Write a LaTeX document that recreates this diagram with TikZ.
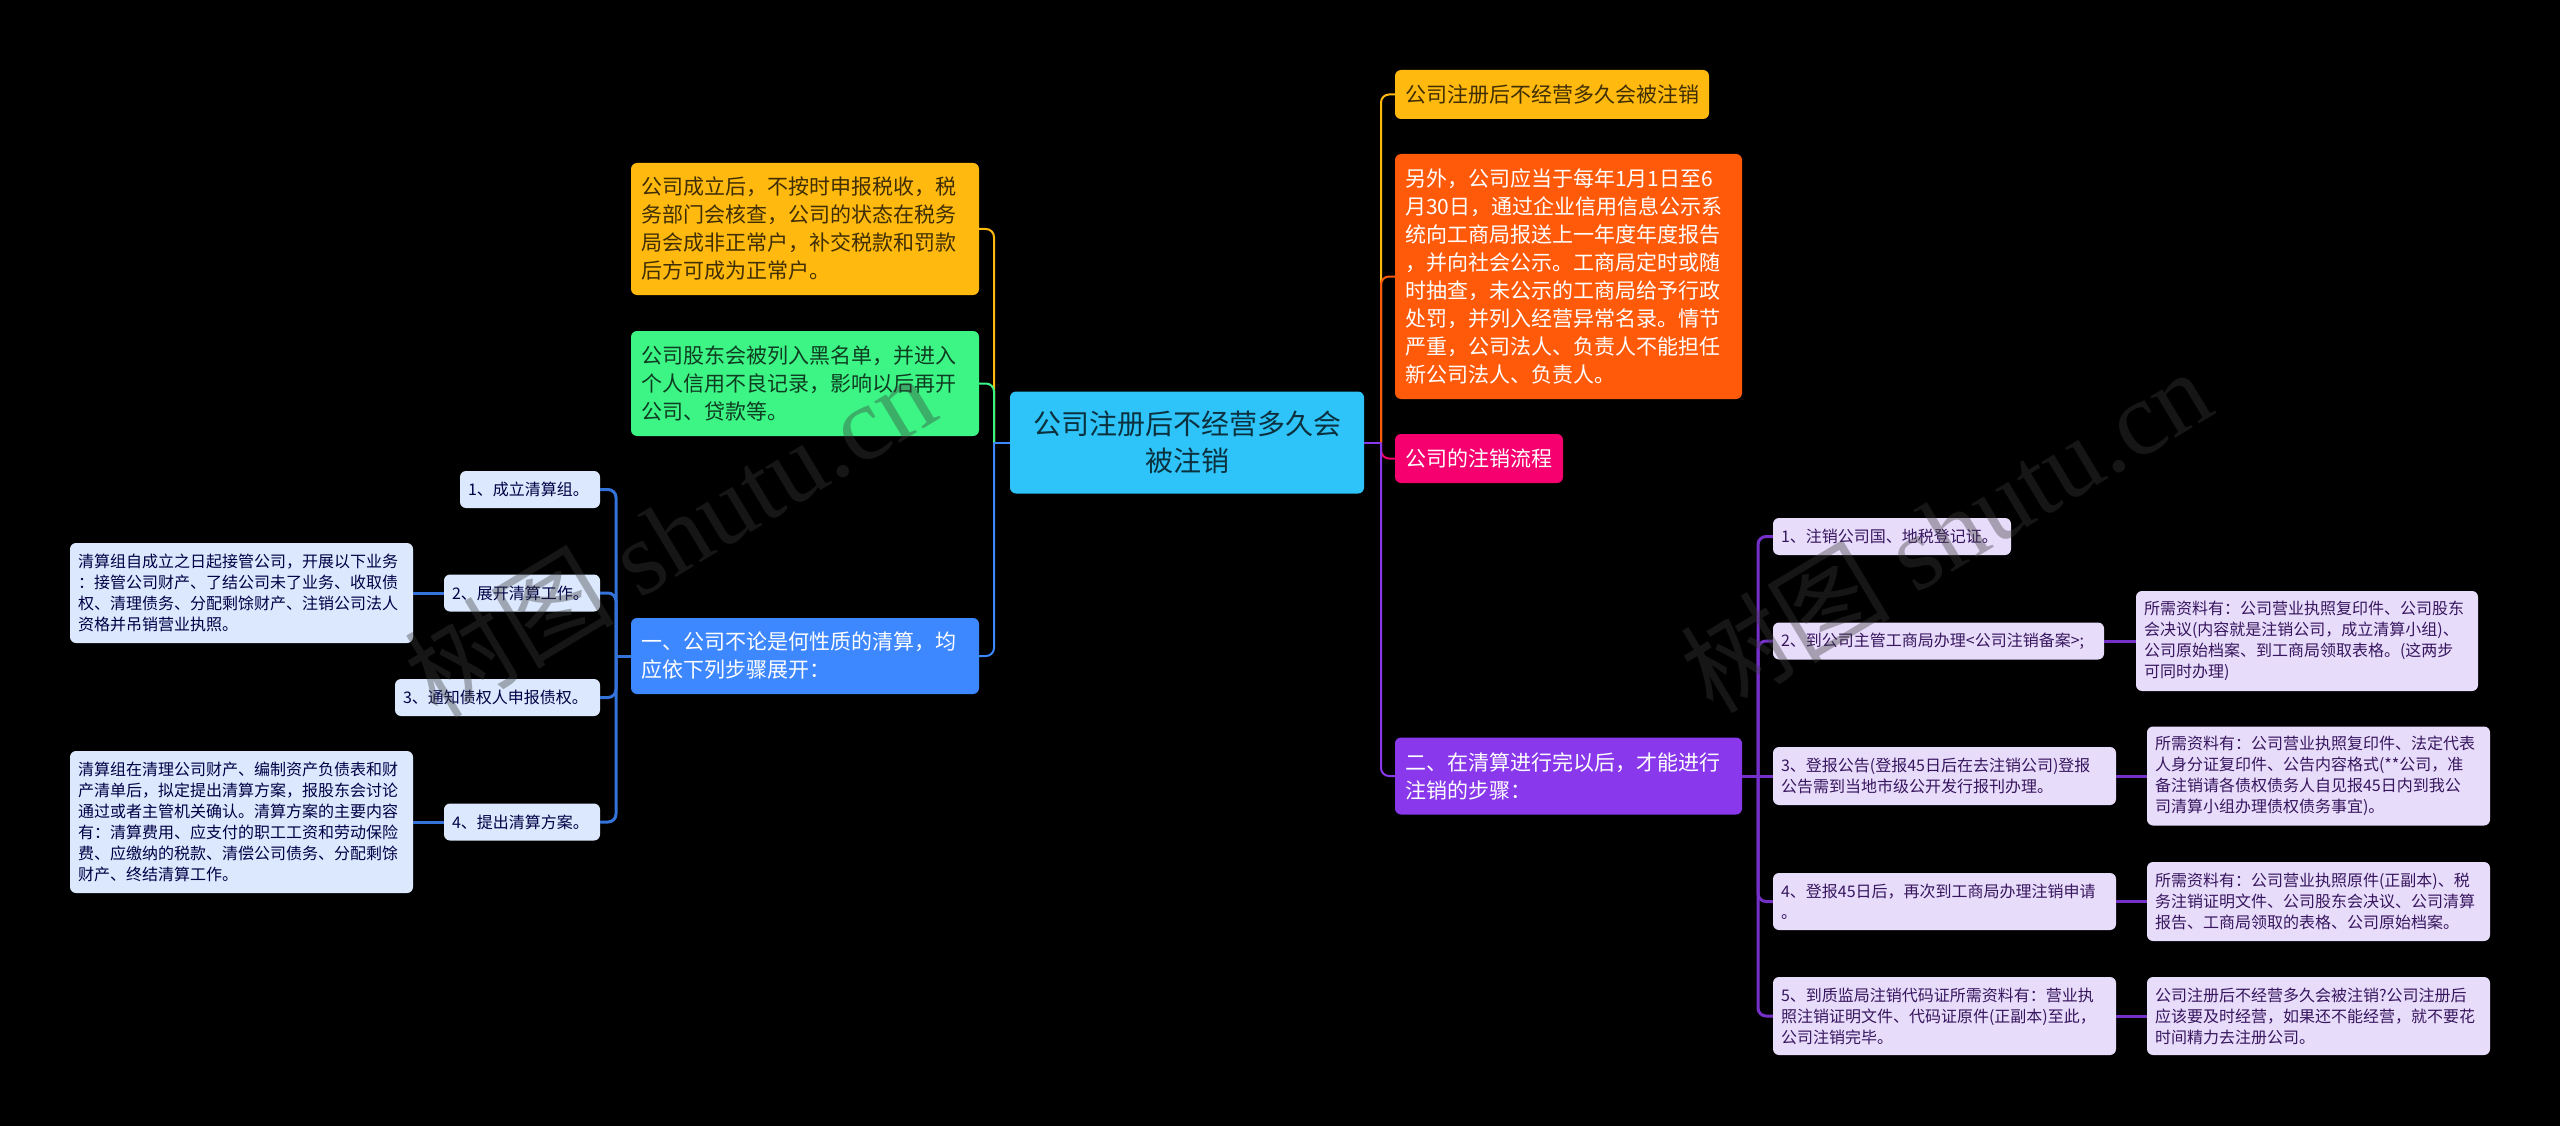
\documentclass[tikz,border=0pt]{standalone}
\usepackage{fontspec}
\setmainfont{Noto Sans CJK SC}
\newfontfamily\markfont{Liberation Serif}
\definecolor{myyellow}{HTML}{FFB90F}
\definecolor{mygreen}{HTML}{3CF585}
\definecolor{myblue}{HTML}{3D87FF}
\definecolor{mysky}{HTML}{2EC4FA}
\definecolor{myorange}{HTML}{FF5A0A}
\definecolor{mypink}{HTML}{F5006E}
\definecolor{mypurple}{HTML}{8A38EC}
\definecolor{palesky}{HTML}{DBE8FD}
\definecolor{palelilac}{HTML}{E8DCFB}
\begin{document}
\begin{tikzpicture}[x=1pt,y=-1pt]
\tikzstyle{mainnode}=[rounded corners=6pt,inner sep=0pt,align=left,font=\fontsize{21}{28}\selectfont]
\tikzstyle{leftnode}=[rounded corners=6pt,inner sep=0pt,align=left,font=\fontsize{16}{21}\selectfont,fill=palesky,text=black!55!blue!60!black]
\tikzstyle{rightnode}=[rounded corners=6pt,inner sep=0pt,align=left,font=\fontsize{16}{21}\selectfont,fill=palelilac,text=black!60!mypurple]
\tikzstyle{mainlink}=[line width=2pt,rounded corners=8pt]
\tikzstyle{leftlink}=[line width=3pt,rounded corners=8pt,draw=myblue!85!black]
\tikzstyle{rightlink}=[line width=3pt,rounded corners=8pt,draw=mypurple!85!black]
\tikzstyle{markstyle}=[rotate=31,text=black!77,opacity=0.38,font=\fontsize{105}{105}\markfont]
\useasboundingbox (0,0) rectangle (2560,1126);
\fill [black] (0,0) rectangle (2560,1126);
\node [rounded corners=6pt,inner sep=0pt,align=center,fill=mysky,text=mysky!25!black,font=\fontsize{28}{37}\selectfont,minimum width=354pt,minimum height=102pt] (root) at (1187,442.5) {公司注册后不经营多久会\\被注销};
\coordinate (ljoin) at (994,442.5);
\coordinate (rjoin) at (1381,442.5);
\coordinate (ljoin1) at (616,656);
\coordinate (rjoin1) at (1758,776);
\node [mainnode,fill=myyellow,text=myyellow!25!black,minimum width=348pt,minimum height=132pt,text width=328pt] (ltax) at (805,229) {公司成立后，不按时申报税收，税\\务部门会核查，公司的状态在税务\\局会成非正常户，补交税款和罚款\\后方可成为正常户。};
\node [mainnode,fill=mygreen,text=mygreen!25!black,minimum width=348pt,minimum height=105pt,text width=328pt] (lblack) at (805,383.5) {公司股东会被列入黑名单，并进入\\个人信用不良记录，影响以后再开\\公司、贷款等。};
\node [mainnode,fill=myblue,text=white,minimum width=348pt,minimum height=76pt,text width=328pt] (lone) at (805,656) {一、公司不论是何性质的清算，均\\应依下列步骤展开：};
\node [leftnode,minimum width=140pt,minimum height=37pt,text width=124pt] (lone1) at (530,489.5) {1、成立清算组。};
\node [leftnode,minimum width=156pt,minimum height=37pt,text width=140pt] (lone2) at (522,593) {2、展开清算工作。};
\node [leftnode,minimum width=343pt,minimum height=100pt,text width=327pt] (lone2d) at (241.5,593) {清算组自成立之日起接管公司，开展以下业务\\：接管公司财产、了结公司未了业务、收取债\\权、清理债务、分配剩馀财产、注销公司法人\\资格并吊销营业执照。};
\node [leftnode,minimum width=205pt,minimum height=37pt,text width=189pt] (lone3) at (497.5,697.5) {3、通知债权人申报债权。};
\node [leftnode,minimum width=156pt,minimum height=37pt,text width=140pt] (lone4) at (522,822) {4、提出清算方案。};
\node [leftnode,minimum width=343pt,minimum height=142pt,text width=327pt] (lone4d) at (241.5,822) {清算组在清理公司财产、编制资产负债表和财\\产清单后，拟定提出清算方案，报股东会讨论\\通过或者主管机关确认。清算方案的主要内容\\有：清算费用、应支付的职工工资和劳动保险\\费、应缴纳的税款、清偿公司债务、分配剩馀\\财产、终结清算工作。};
\node [mainnode,fill=myyellow,text=myyellow!25!black,minimum width=314pt,minimum height=49pt,text width=294pt] (rtitle) at (1552,94.5) {公司注册后不经营多久会被注销};
\node [mainnode,fill=myorange,text=white,minimum width=347pt,minimum height=245pt,text width=327pt] (rnote) at (1568.5,276.5) {另外，公司应当于每年1月1日至6\\月30日，通过企业信用信息公示系\\统向工商局报送上一年度年度报告\\，并向社会公示。工商局定时或随\\时抽查，未公示的工商局给予行政\\处罚，并列入经营异常名录。情节\\严重，公司法人、负责人不能担任\\新公司法人、负责人。};
\node [mainnode,fill=mypink,text=white,minimum width=168pt,minimum height=49pt,text width=148pt] (rflow) at (1479,458.5) {公司的注销流程};
\node [mainnode,fill=mypurple,text=white,minimum width=347pt,minimum height=77pt,text width=327pt] (rtwo) at (1568.5,776) {二、在清算进行完以后，才能进行\\注销的步骤：};
\node [rightnode,minimum width=238pt,minimum height=37pt,text width=222pt] (rtwo1) at (1892,536.5) {1、注销公司国、地税登记证。};
\node [rightnode,minimum width=331pt,minimum height=37pt,text width=315pt] (rtwo2) at (1938.5,641) {2、到公司主管工商局办理<公司注销备案>;};
\node [rightnode,minimum width=342pt,minimum height=100pt,text width=326pt] (rtwo2d) at (2307,641) {所需资料有：公司营业执照复印件、公司股东\\会决议(内容就是注销公司，成立清算小组)、\\公司原始档案、到工商局领取表格。(这两步\\可同时办理)};
\node [rightnode,minimum width=343pt,minimum height=58pt,text width=327pt] (rtwo3) at (1944.5,776) {3、登报公告(登报45日后在去注销公司)登报\\公告需到当地市级公开发行报刊办理。};
\node [rightnode,minimum width=343pt,minimum height=99pt,text width=327pt] (rtwo3d) at (2318.5,776) {所需资料有：公司营业执照复印件、法定代表\\人身分证复印件、公告内容格式(**公司，准\\备注销请各债权债务人自见报45日内到我公\\司清算小组办理债权债务事宜)。};
\node [rightnode,minimum width=343pt,minimum height=57pt,text width=327pt] (rtwo4) at (1944.5,901.5) {4、登报45日后，再次到工商局办理注销申请\\。};
\node [rightnode,minimum width=343pt,minimum height=79pt,text width=327pt] (rtwo4d) at (2318.5,901.5) {所需资料有：公司营业执照原件(正副本)、税\\务注销证明文件、公司股东会决议、公司清算\\报告、工商局领取的表格、公司原始档案。};
\node [rightnode,minimum width=343pt,minimum height=78pt,text width=327pt] (rtwo5) at (1944.5,1016) {5、到质监局注销代码证所需资料有：营业执\\照注销证明文件、代码证原件(正副本)至此，\\公司注销完毕。};
\node [rightnode,minimum width=343pt,minimum height=78pt,text width=327pt] (rtwo5d) at (2318.5,1016) {公司注册后不经营多久会被注销?公司注册后\\应该要及时经营，如果还不能经营，就不要花\\时间精力去注册公司。};
\draw [mainlink,draw=myyellow] (ljoin) |- (ltax.east);
\draw [mainlink,draw=mygreen] (ljoin) |- (lblack.east);
\draw [mainlink,draw=myblue] (ljoin) |- (lone.east);
\draw [mainlink,draw=myblue] (root.west) -- (ljoin);
\draw [mainlink,draw=myyellow] (rjoin) |- (rtitle.west);
\draw [mainlink,draw=myorange] (rjoin) |- (rnote.west);
\draw [mainlink,draw=mypink] (rjoin) |- (rflow.west);
\draw [mainlink,draw=mypurple] (rjoin) |- (rtwo.west);
\draw [mainlink,draw=mypurple] (root.east) -- (rjoin);
\draw [leftlink] (ljoin1) |- (lone1.east);
\draw [leftlink] (ljoin1) |- (lone2.east);
\draw [leftlink] (ljoin1) |- (lone3.east);
\draw [leftlink] (ljoin1) |- (lone4.east);
\draw [leftlink] (lone.west) -- (ljoin1);
\draw [leftlink] (lone2.west) -- (lone2d.east);
\draw [leftlink] (lone4.west) -- (lone4d.east);
\draw [rightlink] (rjoin1) |- (rtwo1.west);
\draw [rightlink] (rjoin1) |- (rtwo2.west);
\draw [rightlink] (rjoin1) -- (rtwo3.west);
\draw [rightlink] (rjoin1) |- (rtwo4.west);
\draw [rightlink] (rjoin1) |- (rtwo5.west);
\draw [rightlink] (rtwo.east) -- (rjoin1);
\draw [rightlink] (rtwo2.east) -- (rtwo2d.west);
\draw [rightlink] (rtwo3.east) -- (rtwo3d.west);
\draw [rightlink] (rtwo4.east) -- (rtwo4d.west);
\draw [rightlink] (rtwo5.east) -- (rtwo5d.west);
\node [markstyle] (mark1) at (669,535) {{\fontspec{Noto Sans CJK SC}树图} shutu.cn};
\node [markstyle] (mark2) at (1945,530) {{\fontspec{Noto Sans CJK SC}树图} shutu.cn};
\end{tikzpicture}
\end{document}
